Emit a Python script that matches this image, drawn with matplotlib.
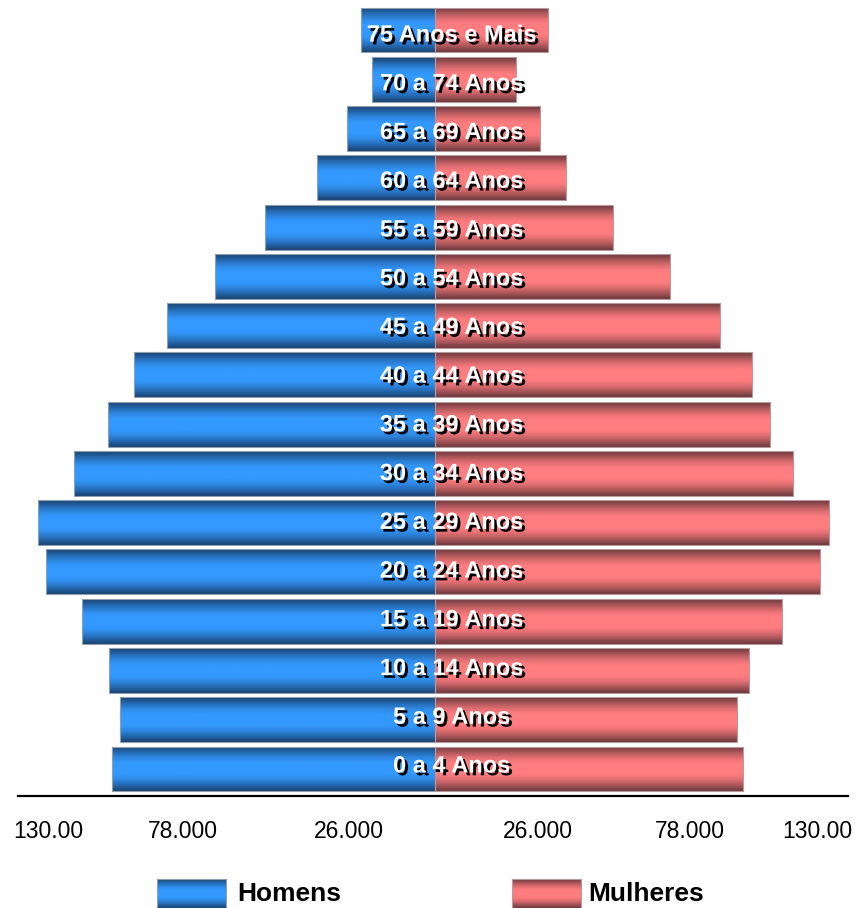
import matplotlib.pyplot as plt
import matplotlib.patheffects as pe
import matplotlib.transforms as mtransforms
import numpy as np

plt.rcParams['font.family'] = ['Liberation Sans', 'DejaVu Sans']

# faixas etárias, de baixo para cima
faixas = ['0 a 4 Anos', '5 a 9 Anos', '10 a 14 Anos', '15 a 19 Anos', '20 a 24 Anos',
          '25 a 29 Anos', '30 a 34 Anos', '35 a 39 Anos', '40 a 44 Anos', '45 a 49 Anos',
          '50 a 54 Anos', '55 a 59 Anos', '60 a 64 Anos', '65 a 69 Anos', '70 a 74 Anos',
          '75 Anos e Mais']
homens = [109100, 106400, 110100, 119300, 131400, 134100, 122000, 110500, 101700, 90500,
          74300, 57400, 39900, 29700, 21300, 25000]
mulheres = [104100, 102000, 106100, 117200, 130100, 133100, 120900, 113200, 107100, 96300,
            79400, 60100, 44300, 35500, 27400, 38200]

# rótulos do eixo x (posições como aparecem no gráfico original)
tick_pos = [-130700, -85100, -29100, 34800, 86100, 129100]
tick_lab = ['130.00', '78.000', '26.000', '26.000', '78.000', '130.00']

azul_escuro = np.array([0.10, 0.26, 0.44])
azul_claro = np.array([0.20, 0.60, 1.00])
verm_escuro = np.array([0.42, 0.22, 0.24])
verm_claro = np.array([1.00, 0.49, 0.50])


def gradiente(escuro, claro, n=100):
    t = np.linspace(0, 1, n)
    f = np.clip(np.sin(np.pi * t) * 1.08, 0, 1)
    cores = escuro[None, :] + (claro - escuro)[None, :] * f[:, None]
    return cores[:, None, :]


fig = plt.figure(figsize=(8.56, 9.08), dpi=100)
ax = fig.add_axes([18 / 856, 112 / 908, 830 / 856, 796 / 908])

y = np.arange(len(faixas))
altura = 0.913

barras_h = ax.barh(y, -np.array(homens), height=altura, color='none',
                   edgecolor='#8f9fb2', linewidth=0.8, zorder=3)
barras_m = ax.barh(y, mulheres, height=altura, color='none',
                   edgecolor='#b89a9c', linewidth=0.8, zorder=3)

grad_h = gradiente(azul_escuro, azul_claro)
grad_m = gradiente(verm_escuro, verm_claro)
for barras, grad in ((barras_h, grad_h), (barras_m, grad_m)):
    for b in barras:
        x0, y0 = b.get_x(), b.get_y()
        x1, y1 = x0 + b.get_width(), y0 + b.get_height()
        im = ax.imshow(grad, extent=[min(x0, x1), max(x0, x1), y0, y1],
                       aspect='auto', origin='lower', interpolation='bilinear', zorder=2)
        im.set_clip_path(b)

# rótulos das faixas (um pouco deslocados em relação ao centro das barras)
sombra = [pe.SimplePatchShadow(offset=(2.0, -2.0), shadow_rgbFace='black', alpha=1.0),
          pe.Normal()]
y_txt = y - (3.5 + 0.54 * y) / 49.27
for yt, nome in zip(y_txt, faixas):
    ax.text(5700, yt, nome, ha='center', va='baseline', color='white', fontsize=17,
            fontweight='bold', path_effects=sombra, zorder=5)

ax.set_xlim(-140880, 139530)
ax.set_ylim(-0.548, 15.609)
for lado in ('top', 'left', 'right'):
    ax.spines[lado].set_visible(False)
ax.spines['bottom'].set_linewidth(1.6)
ax.spines['bottom'].set_color('black')
ax.set_xticks([])
ax.set_yticks([])

trans = mtransforms.blended_transform_factory(ax.transData, fig.transFigure)
for p, lab in zip(tick_pos, tick_lab):
    ax.text(p, 1 - 831 / 908, lab, transform=trans, ha='center', va='center',
            fontsize=16.5, color='black', clip_on=False)

# legenda
for x0, grad, cor_borda, texto, xt in ((157, grad_h, '#8f9fb2', 'Homens', 237),
                                      (512, grad_m, '#b89a9c', 'Mulheres', 588)):
    lax = fig.add_axes([x0 / 856, 0, 69 / 856, 29 / 908])
    lax.imshow(grad, aspect='auto', origin='lower', interpolation='bilinear')
    lax.set_xticks([])
    lax.set_yticks([])
    for s in lax.spines.values():
        s.set_color(cor_borda)
        s.set_linewidth(0.8)
    fig.text(xt / 856, 1 - 894 / 908, texto, ha='left', va='center', fontsize=19,
             fontweight='bold', color='black')

fig.savefig('out.png', dpi=100)
